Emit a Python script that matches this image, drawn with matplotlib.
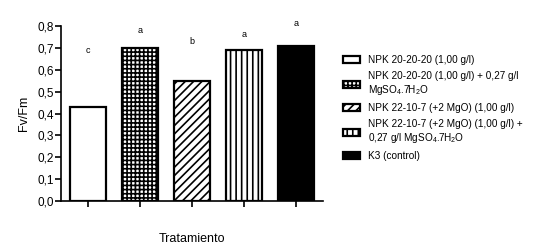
"""Fv/Fm by treatment bar chart"""
import matplotlib
matplotlib.use("Agg")
import matplotlib.pyplot as plt
from matplotlib.ticker import FuncFormatter

plt.rcParams['font.family'] = ['Liberation Sans', 'DejaVu Sans']
plt.rcParams['mathtext.default'] = 'regular'
plt.rcParams['hatch.linewidth'] = 1.2

labels = ["NPK 20-20-20 (1,00 g/l)",
          "NPK 20-20-20 (1,00 g/l) + 0,27 g/l\nMgSO$_4$.7H$_2$O",
          "NPK 22-10-7 (+2 MgO) (1,00 g/l)",
          "NPK 22-10-7 (+2 MgO) (1,00 g/l) +\n0,27 g/l MgSO$_4$.7H$_2$O",
          "K3 (control)"]
values = [0.43, 0.70, 0.55, 0.69, 0.71]
letters = ["c", "a", "b", "a", "a"]
letter_y = [0.69, 0.78, 0.73, 0.76, 0.81]
colors = ["white", "white", "white", "white", "black"]
hatches = [None, "++++", "////", "|||", None]

fig = plt.figure(figsize=(5.43, 2.5), dpi=100)
ax = fig.add_axes([0.112, 0.196, 0.482, 0.70])

x = list(range(len(values)))
bars = []
for i in x:
	b = ax.bar(i, values[i], width=0.69, color=colors[i], edgecolor="black",
	           linewidth=1.6, hatch=hatches[i], label=labels[i])
	bars.append(b)
	ax.text(i, letter_y[i], letters[i], ha="center", va="center", fontsize=6.5)

ax.set_xlim(-0.53, 4.51)
ax.set_ylim(0, 0.8)
ax.set_yticks([i / 10 for i in range(9)])
ax.yaxis.set_major_formatter(FuncFormatter(lambda v, p: f"{v:.1f}".replace(".", ",")))
ax.set_xticks(x)
ax.set_xticklabels([])
ax.spines["top"].set_visible(False)
ax.spines["right"].set_visible(False)
ax.spines["left"].set_linewidth(1.2)
ax.spines["bottom"].set_linewidth(1.2)
ax.tick_params(axis="both", width=1.2, length=4, labelsize=8.5, pad=1)
ax.set_ylabel("Fv/Fm", fontsize=9, labelpad=5)
ax.set_xlabel("Tratamiento", fontsize=9, labelpad=18)

leg = fig.legend(handles=bars, labels=labels, loc="upper left",
                 bbox_to_anchor=(0.615, 0.815), frameon=False, fontsize=7.2,
                 handlelength=1.7, handleheight=0.7, handletextpad=0.8,
                 labelspacing=0.6)

fig.savefig("out.png", dpi=100)
